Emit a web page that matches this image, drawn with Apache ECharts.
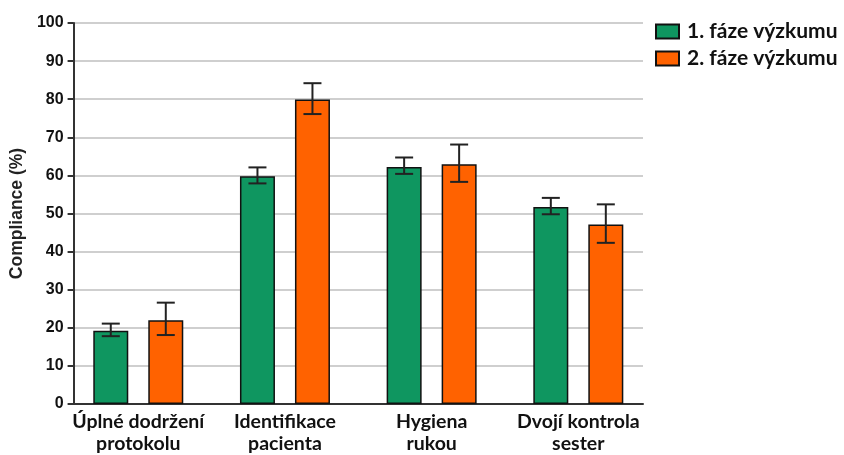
<!DOCTYPE html>
<html>
<head>
<meta charset="utf-8">
<script src="https://cdn.jsdelivr.net/npm/echarts@6/dist/echarts.min.js"></script>
<style>
  html, body { margin: 0; padding: 0; background: #fff; }
  #chart { width: 844px; height: 455px; }
</style>
</head>
<body>
<div id="chart"></div>
<script>
// Compliance by indicator, two study phases, with error bars
const categories = ['Úplné dodržení\nprotokolu', 'Identifikace\npacienta', 'Hygiena\nrukou', 'Dvojí kontrola\nsester'];
const seriesNames = ['1. fáze výzkumu', '2. fáze výzkumu'];
const phase1 = [19.2, 59.8, 62.2, 51.7];
const phase1Low = [17.8, 57.9, 60.4, 49.8];
const phase1High = [21.1, 62.1, 64.7, 54.1];
const phase2 = [22.0, 79.9, 62.9, 47.1];
const phase2Low = [18.1, 76.1, 58.3, 42.3];
const phase2High = [26.6, 84.2, 68.1, 52.4];
const yTicks = [0, 10, 20, 30, 40, 50, 60, 70, 80, 90, 100];

const GREEN = '#0f9660';
const ORANGE = '#ff6200';
const BAR_W = 35;
const BAR_GAP = 20;
const halfShift = (BAR_W + BAR_GAP) / 2;

const idx = categories.map((_, i) => i);
const bars1 = idx.map(i => [i, phase1[i]]);
const bars2 = idx.map(i => [i, phase2[i]]);
const err1 = idx.map(i => [i, phase1Low[i], phase1High[i]]);
const err2 = idx.map(i => [i, phase2Low[i], phase2High[i]]);

function errorRenderer(shift) {
  return function (params, api) {
    const x = api.value(0);
    const lo = api.coord([x, api.value(1)]);
    const hi = api.coord([x, api.value(2)]);
    const cx = lo[0] + shift;
    const cap = 9;
    const style = { stroke: '#222', lineWidth: 2 };
    return {
      type: 'group',
      children: [
        { type: 'line', shape: { x1: cx, y1: hi[1], x2: cx, y2: lo[1] }, style },
        { type: 'line', shape: { x1: cx - cap, y1: hi[1], x2: cx + cap, y2: hi[1] }, style },
        { type: 'line', shape: { x1: cx - cap, y1: lo[1], x2: cx + cap, y2: lo[1] }, style }
      ]
    };
  };
}

const chart = echarts.init(document.getElementById('chart'), null, { renderer: 'canvas' });
chart.setOption({
  animation: false,
  backgroundColor: '#fff',
  grid: { left: 73, right: 201, top: 23, bottom: 51, containLabel: false },
  legend: {
    orient: 'vertical',
    left: 650,
    top: 16,
    itemWidth: 23,
    itemHeight: 14,
    itemGap: 6,
    icon: 'rect',
    data: seriesNames,
    textStyle: { fontFamily: 'Lato', fontWeight: 'bold', fontSize: 21, color: '#111', padding: [0, 0, 0, 3] }
  },
  xAxis: {
    type: 'value',
    min: -0.441,
    max: 3.441,
    axisLine: { show: true, onZero: false, lineStyle: { color: '#333', width: 2 } },
    axisTick: { show: false },
    splitLine: { show: false },
    axisLabel: {
      customValues: idx,
      formatter: v => categories[Math.round(v)] || '',
      fontFamily: 'Lato',
      fontWeight: 'bold',
      fontSize: 19.5,
      lineHeight: 22,
      color: '#111',
      margin: 7
    }
  },
  yAxis: {
    type: 'value',
    min: yTicks[0],
    max: yTicks[yTicks.length - 1],
    interval: 10,
    name: 'Compliance (%)',
    nameLocation: 'middle',
    nameRotate: 90,
    nameGap: 46,
    nameTextStyle: { fontFamily: 'Liberation Sans', fontWeight: 'bold', fontSize: 17.5, color: '#222' },
    axisLine: { show: true, onZero: false, lineStyle: { color: '#333', width: 2 } },
    axisTick: { show: true, inside: false, length: 6, lineStyle: { color: '#333', width: 2 } },
    splitLine: { show: true, lineStyle: { color: '#cfcfcf', width: 2 } },
    axisLabel: { fontFamily: 'Liberation Sans', fontWeight: 'bold', fontSize: 16, color: '#111', margin: 10 }
  },
  series: [
    {
      name: seriesNames[0], type: 'bar', data: bars1,
      barWidth: BAR_W, barGap: (BAR_GAP / BAR_W * 100) + '%',
      itemStyle: { color: GREEN, borderColor: '#111', borderWidth: 1.5 },
      z: 2
    },
    {
      name: seriesNames[1], type: 'bar', data: bars2,
      barWidth: BAR_W, barGap: (BAR_GAP / BAR_W * 100) + '%',
      itemStyle: { color: ORANGE, borderColor: '#111', borderWidth: 1.5 },
      z: 2
    },
    { type: 'custom', data: err1, renderItem: errorRenderer(-halfShift), z: 5, silent: true },
    { type: 'custom', data: err2, renderItem: errorRenderer(halfShift), z: 5, silent: true }
  ]
});
</script>
</body>
</html>
